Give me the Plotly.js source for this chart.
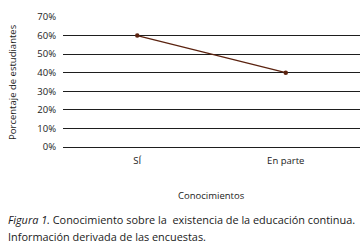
<!DOCTYPE html>
<html><head><meta charset="utf-8">
<script src="https://cdn.plot.ly/plotly-3.0.1.min.js"></script>
<style>html,body{margin:0;padding:0;background:#fff;}#c{width:363px;height:248px;}</style>
</head><body><div id="c"></div>
<script>
const categories = ["SÍ", "En parte"];
const values = [0.60, 0.40];
const yTickVals = [0, 0.1, 0.2, 0.3, 0.4, 0.5, 0.6, 0.7];
const yTickText = ["0%", "10%", "20%", "30%", "40%", "50%", "60%", "70%"];
const F = "Open Sans, Liberation Sans, sans-serif";
Plotly.newPlot("c", [{
  x: categories, y: values, type: "scatter", mode: "lines+markers",
  line: {color: "#5b2310", width: 1.3},
  marker: {color: "#5b2310", size: 4.5},
  hoverinfo: "skip"
}], {
  width: 363, height: 248,
  margin: {l: 63, r: 3, t: 17, b: 101},
  paper_bgcolor: "#fff", plot_bgcolor: "#fff",
  showlegend: false,
  font: {family: F, size: 9, color: "#1a1a1a"},
  xaxis: {type: "category", range: [-0.5, 1.5], showgrid: false, zeroline: false, showline: false,
          ticks: "", ticklabelstandoff: 6, tickfont: {family: F, size: 9.5, color: "#1a1a1a"}},
  yaxis: {range: [0, 0.7], tickvals: yTickVals, ticktext: yTickText, showgrid: true,
          gridcolor: "#1e1e1e", gridwidth: 1, zeroline: true, zerolinecolor: "#1e1e1e", zerolinewidth: 1,
          showline: false, ticks: "", ticklabelstandoff: 6, tickfont: {family: F, size: 9.5, color: "#1a1a1a"}},
  annotations: [
    {text: "Porcentaje de estudiantes", xref: "paper", yref: "paper", x: -0.172, y: 0.5,
     textangle: -90, showarrow: false, xanchor: "center", yanchor: "middle", font: {family: F, size: 9.5, color: "#1a1a1a"}},
    {text: "Conocimientos", xref: "paper", yref: "paper", x: 0.5, y: -0.37, showarrow: false,
     xanchor: "center", yanchor: "middle", font: {family: F, size: 9.5, color: "#1a1a1a"}},
    {text: "<i>Figura 1.</i> Conocimiento sobre la  existencia de la educación continua.",
     xref: "paper", yref: "paper", x: -0.192, y: -0.554, showarrow: false, align: "left",
     xanchor: "left", yanchor: "middle", font: {family: F, size: 10.9, color: "#1a1a1a"}},
    {text: "Información derivada de las encuestas.",
     xref: "paper", yref: "paper", x: -0.192, y: -0.692, showarrow: false, align: "left",
     xanchor: "left", yanchor: "middle", font: {family: F, size: 10.9, color: "#1a1a1a"}}
  ]
}, {displayModeBar: false, staticPlot: true});
</script></body></html>
